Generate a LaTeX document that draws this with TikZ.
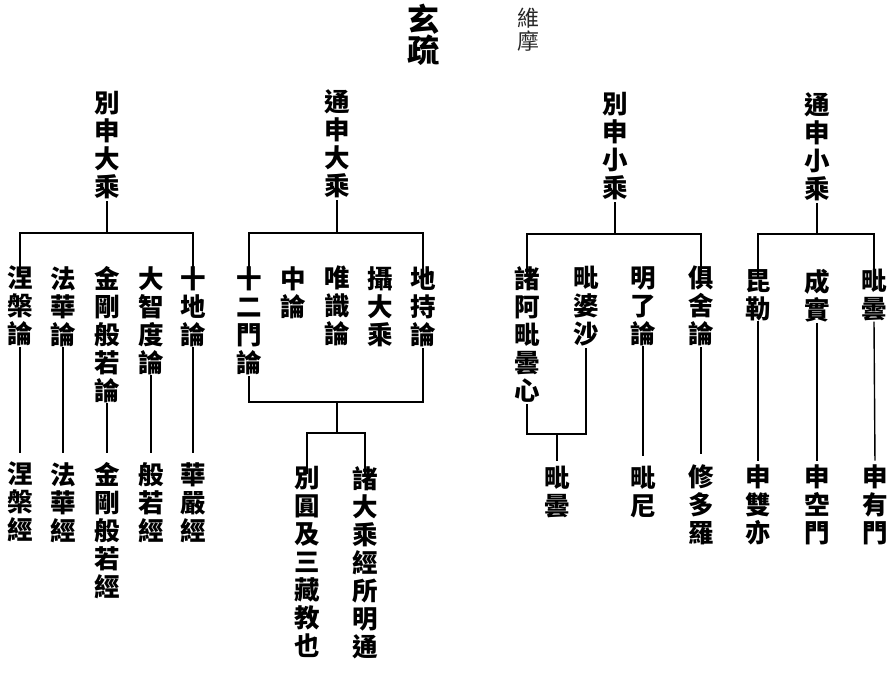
\documentclass[tikz,border=0pt]{standalone}
\usepackage{fontspec}
\newfontfamily\cjk{Noto Sans CJK TC}
\begin{document}
\begin{tikzpicture}[x=1pt,y=-1pt,
  vt/.style={font=\cjk\bfseries\fontsize{25.5}{28}\selectfont, align=center, inner sep=0pt, anchor=north},
  ttl/.style={font=\cjk\bfseries\fontsize{32}{31}\selectfont, align=center, inner sep=0pt, anchor=north},
  ttls/.style={font=\cjk\fontsize{22}{23}\selectfont, align=center, inner sep=0pt, anchor=north, text=black!85},
  ln/.style={line width=1.4pt, line cap=rect}]
\useasboundingbox[fill=white] (0,0) rectangle (895,678);
% title
\node[ttl] (t1) at (423,4) {玄\\疏};
\node[ttls] (t2) at (528,8) {維\\摩};
% headings
\node[vt] (h1) at (107,91) {別\\申\\大\\乘};
\node[vt] (h2) at (337,89) {通\\申\\大\\乘};
\node[vt] (h3) at (615,92) {別\\申\\小\\乘};
\node[vt] (h4) at (817,92) {通\\申\\小\\乘};
\coordinate (k1) at (107,233);
\coordinate (k2) at (337,233);
\coordinate (k3) at (615,234);
\coordinate (k4) at (817,234);
\foreach \i in {1,2,3,4} {\draw[ln] ([yshift=-3pt]h\i.south) -- (k\i);}
% group 1
\node[vt] (a1) at (20,266) {涅\\槃\\論};
\node[vt] (a2) at (63,266) {法\\華\\論};
\node[vt] (a3) at (107,266) {金\\剛\\般\\若\\論};
\node[vt] (a4) at (151,266) {大\\智\\度\\論};
\node[vt] (a5) at (193,266) {十\\地\\論};
\node[vt] (b1) at (20,462) {涅\\槃\\經};
\node[vt] (b2) at (63,462) {法\\華\\經};
\node[vt] (b3) at (107,462) {金\\剛\\般\\若\\經};
\node[vt] (b4) at (151,462) {般\\若\\經};
\node[vt] (b5) at (193,462) {華\\嚴\\經};
\draw[ln] ([yshift=-8pt]a1.north) |- (k1) -| ([yshift=-8pt]a5.north);
\foreach \i in {1,...,5} {\draw[ln, shorten <=1pt, shorten >=10pt] (a\i.south) -- (b\i.north);}
% group 2
\node[vt] (c1) at (249,266) {十\\二\\門\\論};
\node[vt] (c2) at (293,266) {中\\論};
\node[vt] (c3) at (337,266) {唯\\識\\論};
\node[vt] (c4) at (380,266) {攝\\大\\乘};
\node[vt] (c5) at (423,266) {地\\持\\論};
\draw[ln] ([yshift=-8pt]c1.north) |- (k2) -| ([yshift=-8pt]c5.north);
\coordinate (m2) at (337,402);
\coordinate (n2) at (337,433);
\draw[ln] ([yshift=-2pt]c1.south) |- (m2) -| ([yshift=-2pt]c5.south);
\draw[ln] (m2) -- (n2);
\node[vt] (d1) at (307,466) {別\\圓\\及\\三\\藏\\教\\也};
\node[vt] (d2) at (365,466) {諸\\大\\乘\\經\\所\\明\\通};
\draw[ln] ([yshift=-7pt]d1.north) |- (n2) -| ([yshift=-7pt]d2.north);
% group 3
\node[vt] (e1) at (527,266) {諸\\阿\\毗\\曇\\心};
\node[vt] (e2) at (586,266) {毗\\婆\\沙};
\node[vt] (e3) at (643,266) {明\\了\\論};
\node[vt] (e4) at (701,266) {俱\\舍\\論};
\draw[ln] ([yshift=-8pt]e1.north) |- (k3) -| ([yshift=-8pt]e4.north);
\coordinate (m3) at (557,434);
\draw[ln] ([yshift=-2pt]e1.south) |- (m3) -| ([yshift=-2pt]e2.south);
\node[vt] (f1) at (557,466) {毗\\曇};
\node[vt] (f2) at (643,466) {毗\\尼};
\node[vt] (f3) at (701,464) {修\\多\\羅};
\draw[ln, shorten >=6pt] (m3) -- (f1.north);
\draw[ln, shorten <=1pt, shorten >=11pt] (e3.south) -- (f2.north);
\draw[ln, shorten <=1pt, shorten >=11pt] (e4.south) -- (f3.north);
% group 4
\node[vt] (g1) at (758,269) {昆\\勒};
\node[vt] (g2) at (817,269) {成\\實};
\node[vt] (g3) at (874,269) {毗\\曇};
\draw[ln] ([yshift=-9pt]g1.north) |- (k4) -| ([yshift=-9pt]g3.north);
\node[vt] (j1) at (758,464) {申\\雙\\亦};
\node[vt] (j2) at (817,464) {申\\空\\門};
\node[vt] (j3) at (875,464) {申\\有\\門};
\foreach \i in {1,2,3} {\draw[ln, shorten <=1pt, shorten >=4pt] (g\i.south) -- (j\i.north);}
\end{tikzpicture}
\end{document}
